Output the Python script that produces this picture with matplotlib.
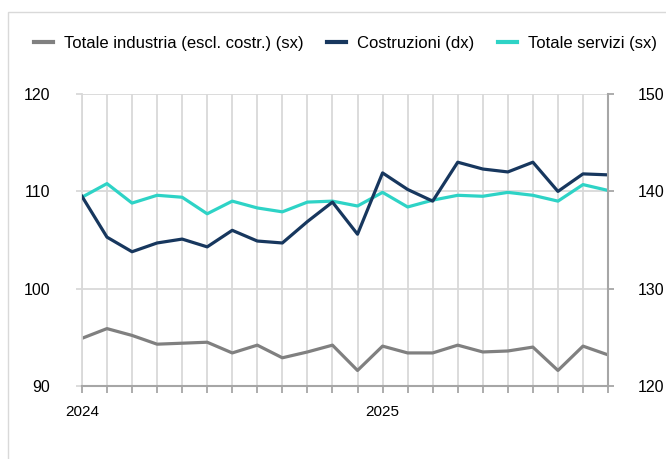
import matplotlib.pyplot as plt
import matplotlib.patches as mpatches
import numpy as np

plt.rcParams['font.family'] = ['Liberation Sans', 'DejaVu Sans']

# mesi: gen 2024 - ott 2025
months = np.arange(22)
year_ticks = [0, 12]
year_labels = ['2024', '2025']

industria = [94.9, 95.9, 95.2, 94.3, 94.4, 94.5, 93.4, 94.2, 92.9, 93.5, 94.2,
             91.6, 94.1, 93.4, 93.4, 94.2, 93.5, 93.6, 94.0, 91.6, 94.1, 93.2]
servizi = [109.4, 110.8, 108.8, 109.6, 109.4, 107.7, 109.0, 108.3, 107.9, 108.9, 109.0,
           108.5, 109.9, 108.4, 109.1, 109.6, 109.5, 109.9, 109.6, 109.0, 110.7, 110.1]
costruzioni = [139.5, 135.3, 133.8, 134.7, 135.1, 134.3, 136.0, 134.9, 134.7, 136.9, 138.9,
               135.6, 141.9, 140.2, 139.0, 143.0, 142.3, 142.0, 143.0, 140.0, 141.8, 141.7]

c_ind = '#808080'
c_cos = '#17375e'
c_ser = '#2ed3c6'
grid_c = '#d9d9d9'
spine_c = '#a6a6a6'

fig = plt.figure(figsize=(6.66, 4.59), dpi=100)
ax = fig.add_axes([0.123, 0.159, 0.79, 0.636])
ax2 = ax.twinx()

# cornice
fig.patches.append(mpatches.Rectangle((0.012, -0.05), 1.2, 1.024, transform=fig.transFigure,
                                      fill=False, edgecolor='#d9d9d9', linewidth=1))

l1, = ax.plot(months, industria, color=c_ind, lw=2.3, label='Totale industria (escl. costr.) (sx)')
l3, = ax.plot(months, servizi, color=c_ser, lw=2.3, label='Totale servizi (sx)', zorder=3)
l2, = ax2.plot(months, costruzioni, color=c_cos, lw=2.3, label='Costruzioni (dx)')

ax.set_xlim(0, 21)
ax.set_ylim(90, 120)
ax.set_yticks([90, 100, 110, 120])
ax2.set_ylim(120, 150)
ax2.set_yticks([120, 130, 140, 150])

ax.set_xticks(months)
ax.set_xticklabels([year_labels[year_ticks.index(m)] if m in year_ticks else '' for m in months])

ax.grid(True, color=grid_c, lw=1.3)
ax.set_axisbelow(True)
for a in (ax, ax2):
    for s in a.spines.values():
        s.set_visible(False)
ax.spines['bottom'].set_visible(True)
ax.spines['bottom'].set_color(spine_c)
ax.spines['bottom'].set_linewidth(1.5)
ax.spines['left'].set_visible(True)
ax.spines['left'].set_color(grid_c)
ax.spines['left'].set_linewidth(1.3)
ax2.spines['right'].set_visible(True)
ax2.spines['right'].set_color(spine_c)
ax2.spines['right'].set_linewidth(1.5)

ax.tick_params(axis='x', length=5, width=1.3, color=spine_c, labelsize=11, pad=9)
ax.tick_params(axis='y', length=4, width=1.3, color=grid_c, labelsize=11.5, pad=19)
ax2.tick_params(axis='y', length=4, width=1.3, color=spine_c, labelsize=11.5, pad=17.5)

fig.legend(handles=[l1, l2, l3], loc='center', bbox_to_anchor=(0.519, 0.905), ncol=3,
           frameon=False, fontsize=12, handlelength=1.15, handletextpad=0.66,
           columnspacing=1.4, borderpad=0, borderaxespad=0)
for h in fig.legends[0].get_lines():
    h.set_linewidth(3)

fig.savefig('out.png', dpi=100)
